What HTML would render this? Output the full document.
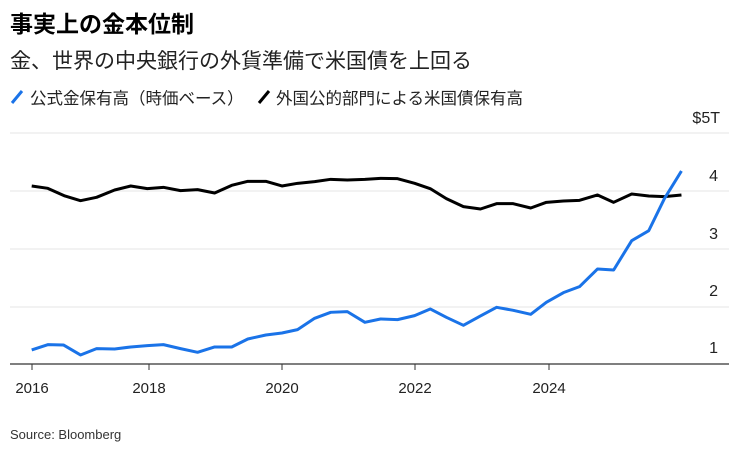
<!DOCTYPE html>
<html><head><meta charset="utf-8"><style>
body{margin:0;background:#fff;width:753px;height:457px;overflow:hidden;font-family:"Liberation Sans","Noto Sans CJK JP",sans-serif;color:#000}
.t{position:absolute;white-space:nowrap}
</style></head><body>
<div class="t" style="left:10px;top:5px;font-size:23px;font-weight:bold">事実上の金本位制</div>
<div class="t" style="left:10px;top:45px;font-size:21px;color:#222">金、世界の中央銀行の外貨準備で米国債を上回る</div>
<div class="t" style="left:30px;top:85px;font-size:16.5px;color:#222">公式金保有高（時価ベース）</div>
<div class="t" style="left:276px;top:85px;font-size:16.5px;color:#222">外国公的部門による米国債保有高</div>
<svg width="753" height="457" style="position:absolute;left:0;top:0">
<line x1="12" y1="103" x2="22" y2="91" stroke="#1a73e8" stroke-width="3"/>
<line x1="259" y1="103" x2="269" y2="91" stroke="#000" stroke-width="3"/>
<g stroke="#e6e6e6" stroke-width="1">
<line x1="10" x2="729" y1="133" y2="133"/><line x1="10" x2="729" y1="191" y2="191"/><line x1="10" x2="729" y1="249" y2="249"/><line x1="10" x2="729" y1="307" y2="307"/></g>
<line x1="10" x2="729" y1="364" y2="364" stroke="#333" stroke-width="1.3"/>
<g stroke="#333" stroke-width="1"><line x1="32" x2="32" y1="364" y2="370"/><line x1="149" x2="149" y1="364" y2="370"/><line x1="282" x2="282" y1="364" y2="370"/><line x1="415" x2="415" y1="364" y2="370"/><line x1="549" x2="549" y1="364" y2="370"/></g>
<g font-size="15" fill="#222" text-anchor="middle"><text x="32" y="393">2016</text><text x="149" y="393">2018</text><text x="282" y="393">2020</text><text x="415" y="393">2022</text><text x="549" y="393">2024</text></g>
<g font-size="16" fill="#222" text-anchor="end"><text x="720" y="123">$5T</text><text x="718" y="181">4</text><text x="718" y="239">3</text><text x="718" y="296">2</text><text x="718" y="353">1</text></g>
<g transform="matrix(0.4878,0,0,0.3333,0,100)" fill="none" stroke-linejoin="round">
<polyline vector-effect="non-scaling-stroke" stroke="#000" stroke-width="3" points="65,258 98,265 133,288 165,302 198,292 235,270 268,258 302,266 335,262 370,272 405,269 440,279 475,256 508,244 545,244 578,258 610,250 645,245 678,238 712,240 748,238 780,235 815,236 850,250 882,266 915,296 950,320 985,327 1018,311 1052,311 1088,324 1120,307 1155,303 1188,301 1225,285 1258,307 1295,282 1330,288 1362,290 1397,285"/>
<polyline vector-effect="non-scaling-stroke" stroke="#1a73e8" stroke-width="3" points="65,750 98,734 130,735 165,765 198,746 235,747 268,741 302,737 335,734 370,746 405,757 440,741 475,741 508,717 545,705 578,699 610,689 645,655 678,637 712,635 748,667 780,657 815,659 850,647 882,627 915,652 950,676 985,648 1018,622 1052,631 1088,643 1120,607 1155,578 1188,560 1225,507 1258,510 1295,422 1330,392 1362,296 1397,213"/>
</g>
<text x="10" y="439" font-size="13" fill="#333">Source: Bloomberg</text>
</svg>
</body></html>
